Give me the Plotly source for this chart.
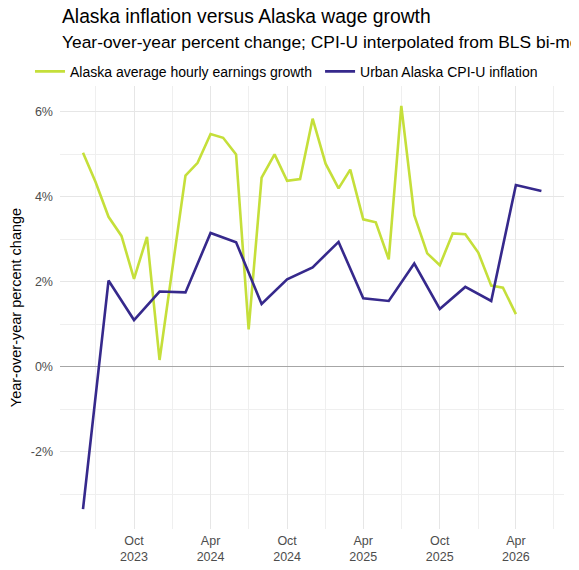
import pandas as pd
import plotly.graph_objects as go

# monthly AHE growth, Jun 2023 - Apr 2026
wage_months = pd.date_range("2023-06-01", "2026-04-01", freq="MS")
wage_growth = [5.04, 4.35, 3.53, 3.08, 2.07, 3.06, 0.16, 2.32, 4.50, 4.80,
               5.48, 5.39, 5.00, 0.88, 4.45, 5.00, 4.38, 4.42, 5.84, 4.78,
               4.20, 4.64, 3.47, 3.40, 2.53, 6.14, 3.57, 2.67, 2.39, 3.14,
               3.12, 2.69, 1.91, 1.86, 1.24]

# bi-monthly CPI-U, Jun 2023 - Jun 2026
cpi_months = pd.date_range("2023-06-01", "2026-06-01", freq="2MS")
cpi_inflation = [-3.35, 2.03, 1.10, 1.77, 1.75, 3.15, 2.93, 1.48, 2.06, 2.34,
                 2.94, 1.61, 1.55, 2.43, 1.36, 1.88, 1.55, 4.28, 4.14]

tick_dates = ["2023-10-01", "2024-04-01", "2024-10-01", "2025-04-01", "2025-10-01", "2026-04-01"]
tick_text = ["Oct<br>2023", "Apr<br>2024", "Oct<br>2024", "Apr<br>2025", "Oct<br>2025", "Apr<br>2026"]
minor_dates = ["2023-07-01", "2024-01-01", "2024-07-01", "2025-01-01", "2025-07-01", "2026-01-01", "2026-07-01"]

y_ticks = [-2, 0, 2, 4, 6]
y_labels = ["-2%", "0%", "2%", "4%", "6%"]
y_minor = [-3, -1, 1, 3, 5]

green = "#c5df3a"
purple = "#36298c"

fig = go.Figure()
fig.add_trace(go.Scatter(x=wage_months, y=wage_growth, mode="lines",
                         name="Alaska average hourly earnings growth",
                         line=dict(color=green, width=2.6), legend="legend"))
fig.add_trace(go.Scatter(x=cpi_months, y=cpi_inflation, mode="lines",
                         name="Urban Alaska CPI-U inflation",
                         line=dict(color=purple, width=2.6), legend="legend2"))

fig.add_annotation(text="Alaska inflation versus Alaska wage growth",
                   xref="paper", yref="paper", x=0, y=1.156,
                   xanchor="left", yanchor="middle", showarrow=False,
                   font=dict(size=19.3, color="black"))
fig.add_annotation(text="Year-over-year percent change; CPI-U interpolated from BLS bi-monthly releases",
                   xref="paper", yref="paper", x=0, y=1.099,
                   xanchor="left", yanchor="middle", showarrow=False,
                   font=dict(size=17.4, color="black"))

leg_style = dict(orientation="h", y=1.032, xanchor="left", yanchor="middle",
                 font=dict(size=14, color="black"), itemwidth=30,
                 bgcolor="rgba(0,0,0,0)")

# page body has an 8px margin, so the figure is sized to fit the window
fig.update_layout(
    width=571, height=562,
    margin=dict(l=52, r=15, t=78, b=41, autoexpand=False),
    paper_bgcolor="white", plot_bgcolor="white",
    font=dict(family="Liberation Sans, Arial, sans-serif"),
    showlegend=True,
    legend=dict(x=-0.0595, **leg_style),
    legend2=dict(x=0.516, **leg_style),
    xaxis=dict(range=["2023-04-07", "2026-07-25"], tickmode="array",
               tickvals=tick_dates, ticktext=tick_text,
               showgrid=True, gridcolor="#e6e6e6", gridwidth=1,
               minor=dict(tickmode="array", tickvals=minor_dates, showgrid=True,
                          gridcolor="#efefef", gridwidth=1),
               tickfont=dict(size=12.5, color="#4d4d4d"), ticklabelstandoff=2,
               zeroline=False, showline=False, ticks="", automargin=False),
    yaxis=dict(range=[-3.82, 6.61], tickmode="array", tickvals=y_ticks, ticktext=y_labels,
               showgrid=True, gridcolor="#e6e6e6", gridwidth=1,
               minor=dict(tickmode="array", tickvals=y_minor, showgrid=True,
                          gridcolor="#efefef", gridwidth=1),
               zeroline=True, zerolinecolor="#a6a6a6", zerolinewidth=1,
               tickfont=dict(size=12.5, color="#4d4d4d"), ticklabelstandoff=6,
               title=dict(text="Year-over-year percent change", standoff=6,
                          font=dict(size=14.5, color="black")),
               showline=False, ticks="", automargin=False),
)

fig.write_html("out.html")
